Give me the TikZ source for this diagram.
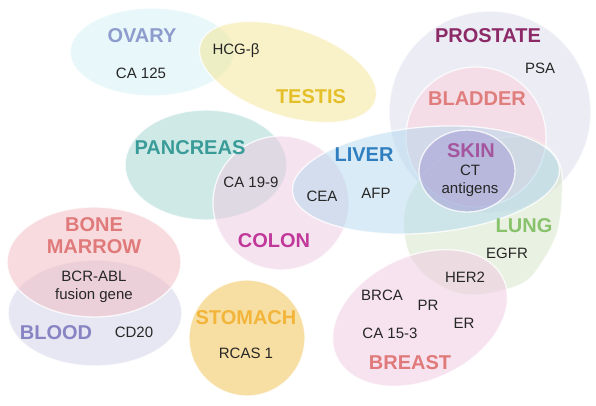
\documentclass[tikz,border=0pt]{standalone}
\usepackage{fontspec}
\setmainfont{Liberation Sans}
\definecolor{cOvary}{RGB}{210,240,244}
\definecolor{cTestis}{RGB}{243,228,145}
\definecolor{cProstate}{RGB}{218,218,236}
\definecolor{cBladder}{RGB}{251,207,216}
\definecolor{cSkin}{RGB}{160,152,212}
\definecolor{cLiver}{RGB}{178,216,238}
\definecolor{cPancreas}{RGB}{160,212,208}
\definecolor{cColon}{RGB}{238,200,225}
\definecolor{cLung}{RGB}{212,228,197}
\definecolor{cBreast}{RGB}{240,200,225}
\definecolor{cMarrow}{RGB}{241,184,190}
\definecolor{cBlood}{RGB}{208,208,232}
\definecolor{cStomach}{RGB}{240,190,70}
\definecolor{tOvary}{RGB}{141,156,204}
\definecolor{tTestis}{RGB}{228,191,42}
\definecolor{tProstate}{RGB}{140,42,104}
\definecolor{tBladder}{RGB}{224,125,125}
\definecolor{tSkin}{RGB}{164,86,159}
\definecolor{tLiver}{RGB}{46,126,192}
\definecolor{tPancreas}{RGB}{58,156,152}
\definecolor{tColon}{RGB}{192,57,154}
\definecolor{tLung}{RGB}{136,194,108}
\definecolor{tBreast}{RGB}{224,122,122}
\definecolor{tBlood}{RGB}{136,132,196}
\definecolor{tStomach}{RGB}{242,181,58}
\tikzset{
  blob/.style={fill=#1, fill opacity=0.5, draw=white, draw opacity=0.8, line width=1.3pt},
  org/.style={font=\fontsize{20}{22}\selectfont\bfseries, text=#1, align=center, inner sep=0pt},
  mk/.style={font=\fontsize{15}{18}\selectfont, text=black!85, align=center, inner sep=0pt}
}
\begin{document}
\begin{tikzpicture}[x=1pt,y=-1pt]
\useasboundingbox (0,0) rectangle (596,405);
% shapes
\path[blob=cOvary] (152,52) ellipse (82pt and 44pt);
\path[blob=cTestis, rotate around={-18:(288,72)}] (288,72) ellipse (92pt and 44pt);
\path[blob=cProstate] (490,112) circle (101pt);
\path[blob=cLung] plot[smooth cycle, tension=0.8] coordinates {(404,232) (430,168) (500,138) (550,150) (562,200) (545,258) (505,290) (440,286)};
\path[blob=cBladder] (476,137) circle (70pt);
\path[blob=cPancreas] (206,165) ellipse (81pt and 55pt);
\path[blob=cColon] (281,203) ellipse (68pt and 67pt);
\path[blob=cLiver, rotate around={5:(426,180)}] (426,180) ellipse (134pt and 53pt);
\path[blob=cSkin] (467,171) ellipse (48pt and 41pt);
\path[blob=cBreast, rotate around={25:(420,318)}] (420,318) ellipse (92pt and 62pt);
\path[blob=cBlood] (95,313) ellipse (87pt and 53pt);
\path[blob=cMarrow] (94,262) ellipse (87pt and 55pt);
\path[blob=cStomach] (247,338) circle (58pt);
% labels
\node[org=tOvary] (ovary) at (142,36) {OVARY};
\node[mk] (ca125) at (141,73) {CA 125};
\node[mk] (hcg) at (236,51) {HCG-β};
\node[org=tTestis] (testis) at (311,97) {TESTIS};
\node[org=tProstate] (prostate) at (488,36) {PROSTATE};
\node[mk] (psa) at (540,68) {PSA};
\node[org=tBladder] (bladder) at (477,99) {BLADDER};
\node[org=tSkin] (skin) at (471,151) {SKIN};
\node[mk] (ct) at (470,181) {CT\\antigens};
\node[org=tLiver] (liver) at (364,155) {LIVER};
\node[mk] (cea) at (322,196) {CEA};
\node[mk] (afp) at (376,193) {AFP};
\node[org=tPancreas] (pancreas) at (190,148) {PANCREAS};
\node[mk] (ca199) at (251,182) {CA 19-9};
\node[org=tColon] (colon) at (274,241) {COLON};
\node[org=tLung] (lung) at (524,226) {LUNG};
\node[mk] (egfr) at (507,253) {EGFR};
\node[mk] (her2) at (465,277) {HER2};
\node[mk] (brca) at (382,295) {BRCA};
\node[mk] (pr) at (428,305) {PR};
\node[mk] (er) at (464,323) {ER};
\node[mk] (ca153) at (390,333) {CA 15-3};
\node[org=tBreast] (breast) at (410,363) {BREAST};
\node[org=tBreast] (marrow) at (94,236) {BONE\\MARROW};
\node[mk] (bcr) at (94,287) {BCR-ABL\\fusion gene};
\node[org=tBlood] (blood) at (56,333) {BLOOD};
\node[mk] (cd20) at (134,332) {CD20};
\node[org=tStomach] (stomach) at (246,318) {STOMACH};
\node[mk] (rcas) at (246,353) {RCAS 1};
\end{tikzpicture}
\end{document}
